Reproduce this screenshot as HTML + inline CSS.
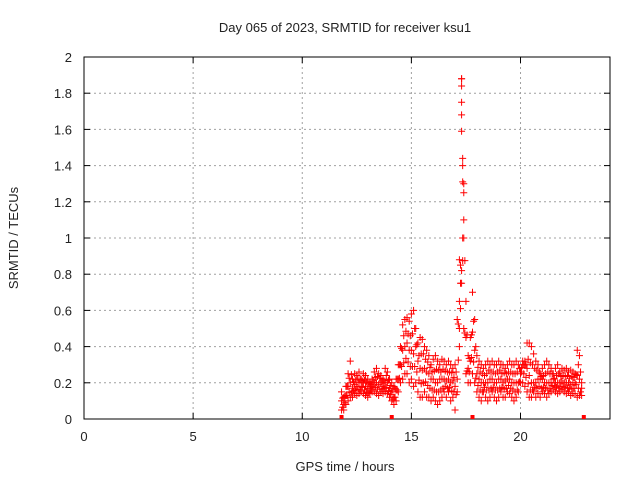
<!DOCTYPE html>
<html><head><meta charset="utf-8"><style>
body{margin:0;background:#fff;}
svg text{font-family:"Liberation Sans",sans-serif;font-size:13px;fill:#222;}
</style></head><body>
<svg id="chart" width="640" height="480" xmlns="http://www.w3.org/2000/svg"></svg>
<script>
const xTicks=[0,5,10,15,20];
const yTicks=[0,0.2,0.4,0.6,0.8,1,1.2,1.4,1.6,1.8,2];
const yTickLabels=["0","0.2","0.4","0.6","0.8","1","1.2","1.4","1.6","1.8","2"];
const times=[11.8,11.9,12.0,12.1,12.2,12.3,12.4,12.5,12.6,12.7,12.8,12.9,13.0,13.1,13.2,13.3,13.4,13.5,13.6,13.7,13.8,13.9,14.0,14.1,14.2,14.3,14.4,14.5,14.6,14.7,14.8,14.9,15.0,15.1,15.2,15.3,15.4,15.5,15.6,15.7,15.8,15.9,16.0,16.1,16.2,16.3,16.4,16.5,16.6,16.7,16.8,16.9,17.0,17.1,17.2,17.3,17.4,17.5,17.6,17.7,17.8,17.9,18.0,18.1,18.2,18.3,18.4,18.5,18.6,18.7,18.8,18.9,19.0,19.1,19.2,19.3,19.4,19.5,19.6,19.7,19.8,19.9,20.0,20.1,20.2,20.3,20.4,20.5,20.6,20.7,20.8,20.9,21.0,21.1,21.2,21.3,21.4,21.5,21.6,21.7,21.8,21.9,22.0,22.1,22.2,22.3,22.4,22.5,22.6,22.7,22.8];
const hiVals=[.15,.12,.18,.25,.32,.22,.25,.24,.26,.22,.25,.24,.22,.2,.22,.26,.28,.25,.24,.22,.28,.26,.22,.2,.18,.22,.3,.4,.52,.55,.56,.54,.58,.6,.5,.42,.45,.44,.4,.38,.35,.3,.33,.35,.32,.3,.33,.32,.3,.32,.3,.28,.3,.55,.88,1.88,1.3,.65,.35,.45,.7,.55,.35,.32,.3,.28,.3,.32,.3,.32,.3,.3,.32,.3,.3,.28,.3,.32,.3,.3,.32,.3,.25,.3,.32,.42,.42,.4,.36,.32,.3,.25,.28,.3,.32,.3,.28,.25,.28,.3,.26,.28,.27,.28,.26,.27,.26,.25,.38,.35,.2];
const midVals=[.1,.08,.13,.18,.2,.17,.19,.18,.2,.18,.2,.18,.17,.17,.18,.2,.2,.19,.2,.18,.2,.2,.17,.15,.12,.16,.22,.3,.38,.4,.42,.38,.38,.36,.4,.32,.28,.27,.28,.26,.25,.22,.22,.2,.2,.22,.22,.22,.21,.22,.2,.21,.18,.22,.5,.82,1.0,.45,.28,.32,.48,.38,.25,.22,.2,.2,.2,.2,.22,.22,.2,.2,.22,.22,.2,.21,.22,.22,.2,.2,.2,.2,.26,.32,.3,.28,.24,.2,.2,.2,.22,.22,.22,.2,.2,.2,.2,.22,.2,.2,.2,.21,.2,.2,.2,.19,.2,.2,.24,.22,.17];
const loVals=[.05,.05,.08,.1,.12,.12,.14,.13,.14,.15,.14,.13,.12,.14,.15,.15,.14,.13,.15,.14,.15,.14,.12,.1,.08,.1,.15,.2,.22,.25,.25,.2,.22,.18,.2,.15,.12,.12,.15,.12,.12,.1,.12,.1,.08,.1,.12,.15,.12,.15,.1,.12,.05,.15,.4,.75,.5,.25,.2,.2,.25,.2,.15,.12,.1,.15,.12,.1,.12,.15,.12,.1,.12,.15,.12,.12,.15,.14,.12,.1,.12,.15,.2,.2,.18,.15,.12,.12,.15,.12,.14,.12,.15,.14,.12,.14,.15,.16,.15,.14,.15,.16,.15,.14,.15,.13,.14,.14,.12,.13,.13];
const spikeTimes=[17.3,17.3,17.3,17.3,17.35,17.35,17.4,17.4,17.3,17.35,17.25,17.2];
const spikeVals=[1.88,1.84,1.75,1.68,1.4,1.31,1.25,1.1,1.59,1.0,0.75,0.65];
const zeroTimes=[11.8,14.1,17.8,22.9];
const zeroVals=[0,0,0,0];

const NS="http://www.w3.org/2000/svg";
const svg=document.getElementById('chart');
const L=84,R=610,T=57,B=419;
const xMax=24.1;
function xs(v){return L+(R-L)*v/xMax;}
function ys(v){return B-(B-T)*v/2;}
function mk(tag,attrs,parent){const e=document.createElementNS(NS,tag);for(const k in attrs)e.setAttribute(k,attrs[k]);(parent||svg).appendChild(e);return e;}

const grid=mk('g',{});


xTicks.forEach(v=>{if(v>0)mk('line',{x1:xs(v),x2:xs(v),y1:T,y2:B,stroke:'#a0a0a0','stroke-dasharray':'2,3'},grid);});
yTicks.forEach(v=>{if(v>0&&v<2)mk('line',{x1:L,x2:R,y1:ys(v),y2:ys(v),stroke:'#a0a0a0','stroke-dasharray':'2,3'},grid);});

const xa=mk('g',{});


xTicks.forEach(v=>{
  mk('line',{x1:xs(v),x2:xs(v),y1:B,y2:B-6,stroke:'#000'},xa);
  mk('line',{x1:xs(v),x2:xs(v),y1:T,y2:T+6,stroke:'#000'},xa);
  const t=mk('text',{x:xs(v),y:B+22,'text-anchor':'middle'},xa);t.textContent=v;
  
  
});
const ya=mk('g',{});


yTicks.forEach((v,i)=>{
  mk('line',{x1:L,x2:L+6,y1:ys(v),y2:ys(v),stroke:'#000'},ya);
  mk('line',{x1:R,x2:R-6,y1:ys(v),y2:ys(v),stroke:'#000'},ya);
  const t=mk('text',{x:L-12,y:ys(v)+5,'text-anchor':'end'},ya);t.textContent=yTickLabels[i];
  
  
});
const frame=mk('rect',{x:L,y:T,width:R-L,height:B-T,fill:'none',stroke:'#000'});



const pts=mk('g',{stroke:'#ff0000','stroke-width':1});


function cross(t,v){const x=xs(t),y=ys(v);mk('path',{d:`M${x-3.5},${y}h7M${x},${y-3.5}v7`},pts);}
const n=Math.min(times.length,hiVals.length,midVals.length,loVals.length);
for(let i=0;i<n;i++){cross(times[i],hiVals[i]);cross(times[i],midVals[i]);cross(times[i],loVals[i]);
  if(i+1<n){const tm=(times[i]+times[i+1])/2;cross(tm,(hiVals[i]+midVals[i+1])/2);cross(tm,(loVals[i]+midVals[i+1])/2);}}
spikeTimes.forEach((t,i)=>cross(t,spikeVals[i]));
zeroTimes.forEach((t,i)=>{const x=xs(t);mk('rect',{x:x-2,y:ys(zeroVals[i])-4,width:4,height:4,fill:'#ff0000',stroke:'none'},pts);});

const title=mk('text',{x:345,y:32,'text-anchor':'middle'});title.textContent='Day 065 of 2023, SRMTID for receiver ksu1';


const xt=mk('text',{x:345,y:471,'text-anchor':'middle'});xt.textContent='GPS time / hours';


const yt=mk('text',{x:0,y:0,'text-anchor':'middle',transform:'translate(18,238) rotate(-90)'});yt.textContent='SRMTID / TECUs';


</script>
</body></html>
